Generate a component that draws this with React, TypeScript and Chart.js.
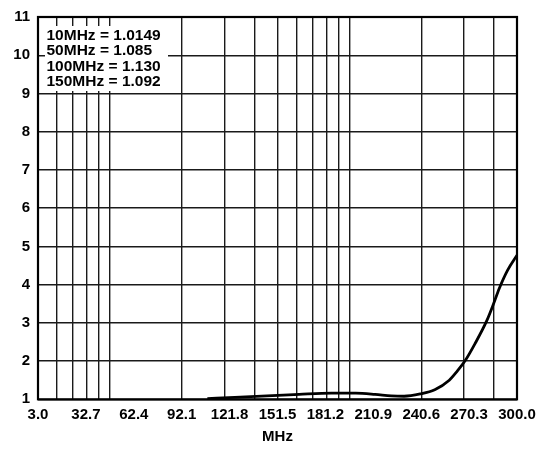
import React, { useEffect, useRef } from "react";
import { Chart, registerables } from "chart.js";

Chart.register(...registerables);

// Tick labels of the MHz axis (linear)
const xTickLabels = ["3.0", "32.7", "62.4", "92.1", "121.8", "151.5", "181.2", "210.9", "240.6", "270.3", "300.0"];
// Log-style vertical grid lines drawn on the chart
const gridLogValues = [0.25, 0.3, 0.35, 0.4, 0.45, 0.5, 1, 1.5, 2, 2.5, 3, 3.5, 4, 4.5, 5, 10, 15, 20, 25];
// Y ticks
const yTicks = [1, 2, 3, 4, 5, 6, 7, 8, 9, 10, 11];
// Curve (MHz, value)
const freqMHz = [108, 125, 145, 165, 185, 200, 212, 222, 230, 240, 249, 258, 262.6, 267.7, 273.9, 281.2, 285.3, 289, 294.2, 300];
const vswr = [1.02, 1.05, 1.09, 1.13, 1.16, 1.16, 1.13, 1.09, 1.08, 1.14, 1.25, 1.5, 1.72, 2.0, 2.45, 3.05, 3.48, 3.9, 4.38, 4.77];
// Annotation text
const annotationLines = ["10MHz = 1.0149", "50MHz = 1.085", "100MHz = 1.130", "150MHz = 1.092"];

const FONT = "'Liberation Sans', Arial, Helvetica, sans-serif";

export default function App() {
  const ref = useRef<HTMLCanvasElement | null>(null);

  useEffect(() => {
    if (!ref.current) return;
    const annotationPlugin = {
      id: "annot",
      afterDatasetsDraw(chart: any) {
        const { ctx, chartArea } = chart;
        ctx.save();
        ctx.fillStyle = "#ffffff";
        ctx.fillRect(chartArea.left + 7, chartArea.top + 9, 123, 65);
        ctx.fillStyle = "#000000";
        ctx.font = `bold 15.5px ${FONT}`;
        ctx.textBaseline = "alphabetic";
        ctx.textAlign = "left";
        annotationLines.forEach((t, i) => {
          ctx.fillText(t, chartArea.left + 8.5, chartArea.top + 22.7 + i * 15.55);
        });
        ctx.restore();
      },
      afterDraw(chart: any) {
        const { ctx, chartArea } = chart;
        ctx.save();
        ctx.strokeStyle = "#000";
        ctx.lineWidth = 2.2;
        ctx.strokeRect(chartArea.left, chartArea.top, chartArea.right - chartArea.left, chartArea.bottom - chartArea.top);
        ctx.restore();
      },
    };

    const chart = new Chart(ref.current, {
      type: "line",
      data: {
        datasets: [
          {
            data: freqMHz.map((x, i) => ({ x, y: vswr[i] })),
            borderColor: "#000",
            borderWidth: 2.8,
            pointRadius: 0,
            cubicInterpolationMode: "monotone",
            fill: false,
            xAxisID: "x",
            yAxisID: "y",
          },
        ],
      },
      options: {
        animation: false,
        responsive: true,
        maintainAspectRatio: false,
        layout: { padding: { top: 14, right: 40, left: 0, bottom: 0 } },
        plugins: { legend: { display: false }, tooltip: { enabled: false } },
        scales: {
          x: {
            type: "linear",
            position: "bottom",
            min: 3,
            max: 300,
            afterBuildTicks: (s: any) => {
              s.ticks = xTickLabels.map((l) => ({ value: parseFloat(l) }));
            },
            afterFit: (s: any) => {
              s.height = 49.7;
            },
            ticks: {
              autoSkip: false,
              maxRotation: 0,
              padding: 7,
              color: "#000",
              font: { family: FONT, size: 15, weight: "bold" },
              callback: (v: any) => Number(v).toFixed(1),
            },
            grid: { display: false, drawTicks: false },
            border: { display: false },
            title: {
              display: true,
              text: "MHz",
              color: "#000",
              font: { family: FONT, size: 15, weight: "bold" },
              padding: { top: 0, bottom: 3 },
            },
          },
          xg: {
            type: "logarithmic",
            position: "top",
            min: 0.25,
            max: 25,
            afterBuildTicks: (s: any) => {
              s.ticks = gridLogValues.map((v) => ({ value: v }));
            },
            afterFit: (s: any) => {
              s.height = 0;
            },
            ticks: { display: false },
            grid: { display: true, drawTicks: false, color: "#1a1a1a", lineWidth: 1.4 },
            border: { display: false },
          },
          y: {
            type: "linear",
            min: 1,
            max: 11,
            afterBuildTicks: (s: any) => {
              s.ticks = yTicks.map((v) => ({ value: v }));
            },
            afterFit: (s: any) => {
              s.width = 38;
            },
            ticks: {
              padding: 8,
              color: "#000",
              font: { family: FONT, size: 15, weight: "bold" },
            },
            grid: { display: true, drawTicks: false, color: "#1a1a1a", lineWidth: 1.4 },
            border: { display: false },
          },
        },
      } as any,
      plugins: [annotationPlugin],
    });
    return () => chart.destroy();
  }, []);

  return (
    <div style={{ position: "absolute", left: 0, top: 0, width: 557, height: 449, background: "#fff" }}>
      <canvas ref={ref} />
    </div>
  );
}
